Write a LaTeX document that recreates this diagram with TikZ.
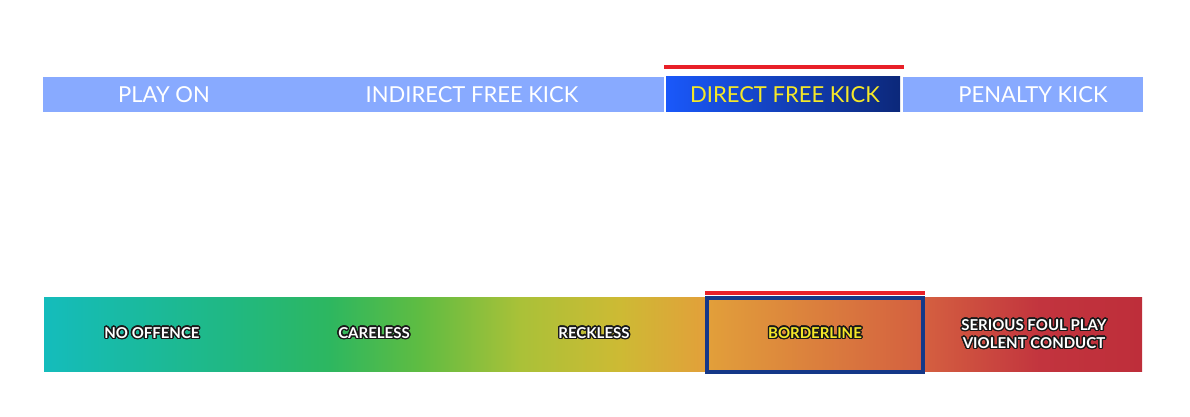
\documentclass[tikz,border=0pt]{standalone}
\usepackage{fontspec}
\setmainfont{Lato}
\usepackage{contour}
\contourlength{1.3pt}
\contournumber{24}
\definecolor{law_blue}{RGB}{136, 170, 255}
\definecolor{law_red}{RGB}{232, 32, 40}
\definecolor{law_yellow}{RGB}{245, 232, 40}
\definecolor{dfk_left}{RGB}{26, 88, 250}
\definecolor{dfk_right}{RGB}{12, 40, 122}
\definecolor{edge_blue}{RGB}{21, 56, 136}
\definecolor{glow}{RGB}{25, 25, 25}
\definecolor{s0}{RGB}{20, 188, 188}
\definecolor{s1}{RGB}{32, 184, 130}
\definecolor{s2}{RGB}{45, 183, 96}
\definecolor{s3}{RGB}{95, 188, 66}
\definecolor{s4}{RGB}{170, 193, 56}
\definecolor{s5}{RGB}{205, 186, 52}
\definecolor{s6}{RGB}{226, 160, 58}
\definecolor{s7}{RGB}{212, 95, 64}
\definecolor{s8}{RGB}{194, 52, 62}
\definecolor{s9}{RGB}{190, 46, 58}
\pgfdeclarehorizontalshading{foulbar}{100bp}{color(0bp)=(s0); color(25bp)=(s0);
  color(33.5bp)=(s1); color(38bp)=(s2); color(42.1bp)=(s3); color(46.7bp)=(s4);
  color(51.2bp)=(s5); color(55.1bp)=(s6); color(65.1bp)=(s7); color(70.4bp)=(s8);
  color(75bp)=(s9); color(100bp)=(s9)}
\tikzstyle{toptext}=[text=white,inner sep=0pt,font=\fontsize{22}{24}\selectfont]
\tikzstyle{lowtext}=[text=white,inner sep=0pt,align=center,
  font=\bfseries\fontsize{15}{18}\selectfont]

\begin{document}
\begin{tikzpicture}[x=1pt,y=-1pt]
    \useasboundingbox (0,0) rectangle (1190,417);
    \fill [law_blue] (43,77) rectangle (1143,112);
    \fill [white] (664,77) rectangle (903,112);
    \shade [left color=dfk_left,right color=dfk_right] (666,77) rectangle (900,112);
    \fill [law_red] (664,65) rectangle (904,69);
    \node [style=toptext] (po) at (164,95) {PLAY ON};
    \node [style=toptext] (ifk) at (472,95) {INDIRECT FREE KICK};
    \node [style=toptext,text=law_yellow] (dfk) at (785,95) {DIRECT FREE KICK};
    \node [style=toptext] (pk) at (1033,95) {PENALTY KICK};
    \shade [shading=foulbar] (44,297) rectangle (1142,371);
    \fill [law_red] (705,291) rectangle (925,295);
    \draw [edge_blue,line width=4pt] (707,298) rectangle (923,372);
    \node [style=lowtext] (no) at (152,333.5) {\contour{glow}{NO OFFENCE}};
    \node [style=lowtext] (ca) at (374,333.5) {\contour{glow}{CARELESS}};
    \node [style=lowtext] (re) at (594,333.5) {\contour{glow}{RECKLESS}};
    \node [style=lowtext,text=law_yellow] (bo) at (815,333.5) {\contour{glow}{BORDERLINE}};
    \node [style=lowtext] (sf) at (1034,334.5) {\contour{glow}{SERIOUS FOUL PLAY}\\
      \contour{glow}{VIOLENT CONDUCT}};
\end{tikzpicture}
\end{document}
